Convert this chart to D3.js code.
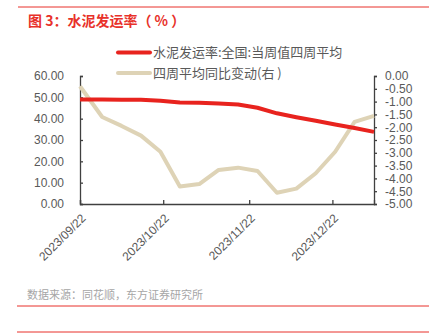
<!DOCTYPE html>
<html><head><meta charset="utf-8">
<script src="https://cdn.jsdelivr.net/npm/d3@7"></script>
<style>
html,body{margin:0;padding:0;background:#fff;}
svg{display:block;}
</style></head>
<body>
<svg id="c" width="436" height="333"></svg>
<script>
const dates = ["2023-09-22","2023-09-30","2023-10-07","2023-10-14","2023-10-21","2023-10-28","2023-11-04","2023-11-11","2023-11-18","2023-11-25","2023-12-02","2023-12-09","2023-12-16","2023-12-23","2023-12-30","2024-01-06"];
const shipRate = [49.0, 49.0, 48.9, 48.9, 48.4, 47.6, 47.5, 47.1, 46.6, 45.1, 42.5, 40.7, 39.0, 37.3, 35.6, 33.8];
const yoyChange = [-0.40, -1.60, -1.95, -2.33, -2.96, -4.32, -4.22, -3.67, -3.58, -3.71, -4.56, -4.40, -3.80, -2.96, -1.79, -1.56];
const xTickDates = ["2023-09-22","2023-10-22","2023-11-22","2023-12-22"];
const xTickLabels = ["2023/09/22","2023/10/22","2023/11/22","2023/12/22"];
const leftTicks = [0,10,20,30,40,50,60];
const rightTicks = [0,-0.5,-1,-1.5,-2,-2.5,-3,-3.5,-4,-4.5,-5];
const seriesNames = ["水泥发运率:全国:当周值四周平均","四周平均同比变动(右 )"];
const title = "图 3：水泥发运率（ % ）";
const source = "数据来源：同花顺，东方证券研究所";

const parse = d3.timeParse("%Y-%m-%d");
const svg = d3.select("#c");
const RED = "#E8231E", BEIGE = "#DED3B6", AX = "#404040", TXT = "#595959";
const numFont = "'Liberation Sans', Arial, sans-serif";
const cjkFont = "'Noto Sans CJK SC', sans-serif";

const L = 80, R = 374, T = 76, B = 204;
const x = d3.scaleTime().domain([parse("2023-09-22"), parse("2024-01-06")]).range([L, R]);
const yL = d3.scaleLinear().domain([0, 60]).range([B, T]);
const yR = d3.scaleLinear().domain([-5, 0]).range([B, T]);

// frame lines
svg.append("line").attr("x1",18).attr("x2",429).attr("y1",7).attr("y2",7).attr("stroke","#E8312A").attr("stroke-width",1);
svg.append("line").attr("x1",17).attr("x2",429).attr("y1",306).attr("y2",306).attr("stroke","#E8312A").attr("stroke-width",1);
svg.append("line").attr("x1",17).attr("x2",429).attr("y1",332).attr("y2",332).attr("stroke","#E8312A").attr("stroke-width",1);

svg.append("text").attr("x",28).attr("y",25.5).attr("fill","#E8312A").attr("font-family",cjkFont)
  .attr("font-size",14).attr("font-weight","bold").text(title);

svg.append("text").attr("x",27).attr("y",299).attr("fill","#A6A6A6").attr("font-family",cjkFont)
  .attr("font-size",11).text(source);

// legend
const legColors = [RED, BEIGE];
seriesNames.forEach((n,i)=>{
  const yy = 52.5 + i*20.5;
  svg.append("line").attr("x1",118).attr("x2",150).attr("y1",yy).attr("y2",yy)
    .attr("stroke",legColors[i]).attr("stroke-width",4).attr("stroke-linecap","round");
  svg.append("text").attr("x",153).attr("y",yy+4.5).attr("fill",TXT).attr("font-family",cjkFont)
    .attr("font-size",13).text(n);
});

// axes
const axL = d3.axisLeft(yL).tickValues(leftTicks).tickSize(-3).tickPadding(16).tickFormat(d=>d.toFixed(2));
const gL = svg.append("g").attr("transform",`translate(${L},0)`).call(axL);
const axR = d3.axisRight(yR).tickValues(rightTicks).tickSize(3).tickPadding(8).tickFormat(d=>d.toFixed(2).replace("-0.00","0.00"));
const gR = svg.append("g").attr("transform",`translate(${R},0)`).call(axR);
const axB = d3.axisBottom(x).tickValues(xTickDates.map(parse)).tickSize(-4)
  .tickFormat((d,i)=>xTickLabels[i]);
const gB = svg.append("g").attr("transform",`translate(0,${B})`).call(axB);

[gL,gR,gB].forEach(g=>{
  g.select(".domain").attr("stroke",AX).attr("stroke-width",1.3);
  g.selectAll(".tick line").attr("stroke",AX).attr("stroke-width",1.3);
  g.selectAll("text").attr("fill",TXT).attr("font-family",numFont).attr("font-size",12);
});
gB.selectAll(".tick text").attr("text-anchor","end").attr("dy",null).attr("y",0)
  .attr("transform","translate(6,15) rotate(-45)");

// lines
const lineL = d3.line().x((d,i)=>x(parse(dates[i]))).y(d=>yL(d));
const lineR = d3.line().x((d,i)=>x(parse(dates[i]))).y(d=>yR(d));
svg.append("path").datum(yoyChange).attr("d",lineR).attr("fill","none").attr("stroke",BEIGE)
  .attr("stroke-width",4).attr("stroke-linejoin","round");
svg.append("path").datum(shipRate).attr("d",lineL).attr("fill","none").attr("stroke",RED)
  .attr("stroke-width",4).attr("stroke-linejoin","round");
</script>
</body></html>
